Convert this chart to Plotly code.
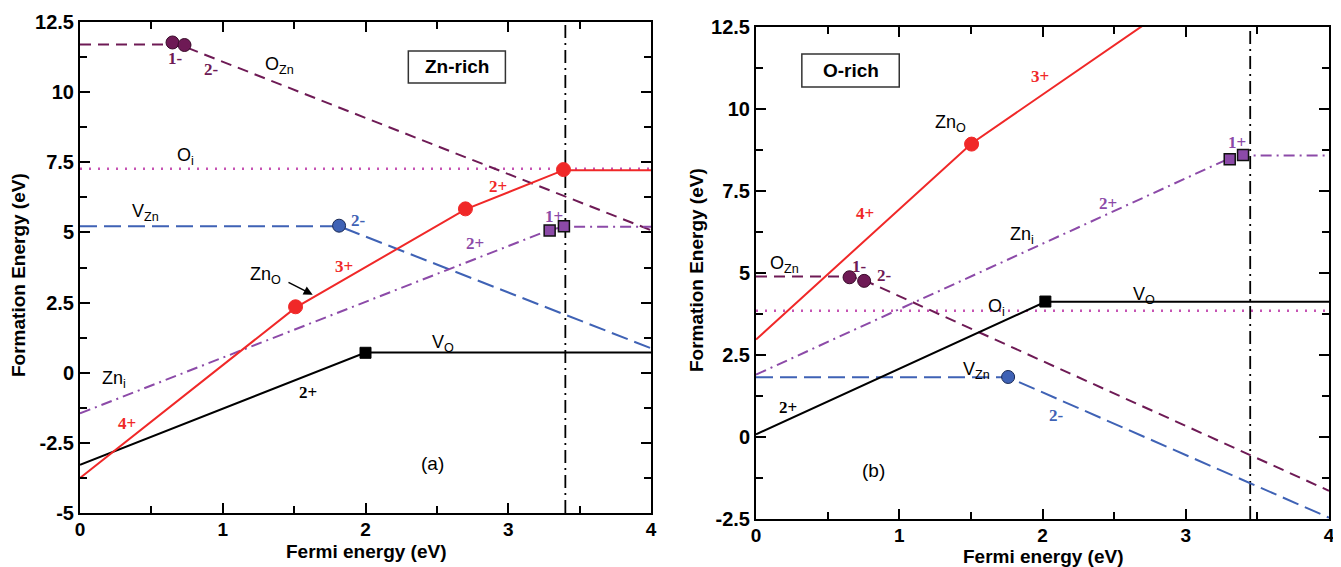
import plotly.graph_objects as go

# ---------------- data ----------------
# Panel (a): Zn-rich
a_OZn_x = [0.0, 0.648, 0.732, 4.0]
a_OZn_y = [11.70, 11.70, 11.62, 5.08]
a_Oi_x = [0.0, 4.0]
a_Oi_y = [7.27, 7.27]
a_VZn_x = [0.0, 1.815, 4.0]
a_VZn_y = [5.22, 5.22, 0.87]
a_ZnO_x = [0.0, 1.51, 2.70, 3.387, 4.0]
a_ZnO_y = [-3.75, 2.32, 5.82, 7.22, 7.22]
a_Zni_x = [0.0, 3.29, 3.39, 4.0]
a_Zni_y = [-1.45, 5.09, 5.20, 5.20]
a_VO_x = [0.0, 2.0, 4.0]
a_VO_y = [-3.28, 0.72, 0.72]
a_gap = 3.40

a_mk_OZn_x = [0.648, 0.732]
a_mk_OZn_y = [11.77, 11.68]
a_mk_VZn_x = [1.815]
a_mk_VZn_y = [5.24]
a_mk_ZnO_x = [1.51, 2.70, 3.387]
a_mk_ZnO_y = [2.35, 5.84, 7.24]
a_mk_Zni_x = [3.29, 3.39]
a_mk_Zni_y = [5.07, 5.22]
a_mk_VO_x = [2.0]
a_mk_VO_y = [0.71]

# Panel (b): O-rich
b_OZn_x = [0.0, 0.653, 0.755, 4.0]
b_OZn_y = [4.89, 4.89, 4.78, -1.64]
b_Oi_x = [0.0, 4.0]
b_Oi_y = [3.85, 3.85]
b_VZn_x = [0.0, 1.76, 4.0]
b_VZn_y = [1.82, 1.82, -2.46]
b_ZnO_x = [0.0, 1.505, 4.0]
b_ZnO_y = [2.97, 8.95, 16.45]
b_Zni_x = [0.0, 3.307, 3.40, 4.0]
b_Zni_y = [1.90, 8.50, 8.58, 8.58]
b_VO_x = [0.0, 2.02, 4.0]
b_VO_y = [0.08, 4.12, 4.12]
b_gap = 3.45

b_mk_OZn_x = [0.653, 0.755]
b_mk_OZn_y = [4.87, 4.76]
b_mk_VZn_x = [1.76]
b_mk_VZn_y = [1.83]
b_mk_ZnO_x = [1.505]
b_mk_ZnO_y = [8.93]
b_mk_Zni_x = [3.307, 3.40]
b_mk_Zni_y = [8.47, 8.60]
b_mk_VO_x = [2.02]
b_mk_VO_y = [4.13]

x_ticks = [0, 1, 2, 3, 4]
a_y_ticks = [-5, -2.5, 0, 2.5, 5, 7.5, 10, 12.5]
a_y_ticklabels = ["-5", "-2.5", "0", "2.5", "5", "7.5", "10", "12.5"]
b_y_ticks = [-2.5, 0, 2.5, 5, 7.5, 10, 12.5]
b_y_ticklabels = ["-2.5", "0", "2.5", "5", "7.5", "10", "12.5"]

# ---------------- styles ----------------
C_OZN = "#6E1A55"
C_OI = "#C653B3"
C_VZN = "#3F62B5"
C_ZNO = "#F02828"
C_ZNI = "#8C4AA8"
C_VO = "#000000"

fig = go.Figure()


def line(x, y, color, dash, xa, ya, width=2):
    fig.add_trace(go.Scatter(x=x, y=y, mode="lines", xaxis=xa, yaxis=ya,
                             line=dict(color=color, dash=dash, width=width),
                             hoverinfo="skip", showlegend=False))


def marks(x, y, color, symbol, size, xa, ya, outline="#222222", ow=1):
    fig.add_trace(go.Scatter(x=x, y=y, mode="markers", xaxis=xa, yaxis=ya,
                             marker=dict(color=color, symbol=symbol, size=size,
                                         line=dict(color=outline, width=ow)),
                             cliponaxis=False, hoverinfo="skip", showlegend=False))


DASH_OZN = "11px,7px"
DASH_VZN = "17px,7px"
DASH_ZNI = "11px,5px,2px,5px"
DASH_OI = "2px,7px"
DASH_GAP = "13px,5px,2px,5px"

for xa, ya, d, gap, yr in [
    ("x", "y", dict(OZn=(a_OZn_x, a_OZn_y), Oi=(a_Oi_x, a_Oi_y), VZn=(a_VZn_x, a_VZn_y),
                    ZnO=(a_ZnO_x, a_ZnO_y), Zni=(a_Zni_x, a_Zni_y), VO=(a_VO_x, a_VO_y),
                    mOZn=(a_mk_OZn_x, a_mk_OZn_y), mVZn=(a_mk_VZn_x, a_mk_VZn_y),
                    mZnO=(a_mk_ZnO_x, a_mk_ZnO_y), mZni=(a_mk_Zni_x, a_mk_Zni_y),
                    mVO=(a_mk_VO_x, a_mk_VO_y)), a_gap, [-5, 12.5]),
    ("x2", "y2", dict(OZn=(b_OZn_x, b_OZn_y), Oi=(b_Oi_x, b_Oi_y), VZn=(b_VZn_x, b_VZn_y),
                      ZnO=(b_ZnO_x, b_ZnO_y), Zni=(b_Zni_x, b_Zni_y), VO=(b_VO_x, b_VO_y),
                      mOZn=(b_mk_OZn_x, b_mk_OZn_y), mVZn=(b_mk_VZn_x, b_mk_VZn_y),
                      mZnO=(b_mk_ZnO_x, b_mk_ZnO_y), mZni=(b_mk_Zni_x, b_mk_Zni_y),
                      mVO=(b_mk_VO_x, b_mk_VO_y)), b_gap, [-2.5, 12.5]),
]:
    line(*d["Oi"], C_OI, DASH_OI, xa, ya, width=2.5)
    line([gap, gap], yr, "#000000", DASH_GAP, xa, ya, width=1.8)
    line(*d["OZn"], C_OZN, DASH_OZN, xa, ya)
    line(*d["VZn"], C_VZN, DASH_VZN, xa, ya)
    line(*d["Zni"], C_ZNI, DASH_ZNI, xa, ya)
    line(*d["VO"], C_VO, "solid", xa, ya)
    line(*d["ZnO"], C_ZNO, "solid", xa, ya)
    marks(*d["mOZn"], C_OZN, "circle", 13, xa, ya, outline="#3a0a2a")
    marks(*d["mVZn"], C_VZN, "circle", 13, xa, ya, outline="#1a2a55")
    marks(*d["mZnO"], C_ZNO, "circle", 14, xa, ya, outline=C_ZNO)
    marks(*d["mZni"], C_ZNI, "square", 11, xa, ya, outline="#111111", ow=1.5)
    marks(*d["mVO"], "#000000", "square", 11, xa, ya, outline="#000000")

# ---------------- layout geometry ----------------
# page body has an 8px default margin, so the figure is sized to fit and offset
OFF = 8
W, H = 1341 - OFF, 567 - OFF


def px(xp):
    return (xp - OFF) / W


def py(yp):
    return 1 - (yp - OFF) / H


# ---------------- annotations ----------------
SANS = "Liberation Sans, Arial, Helvetica, sans-serif"
SERIF = "Liberation Serif, Times New Roman, serif"
ann = []


def lab(x, y, text, xr, yr, size=18, color="black", family=SANS):
    ann.append(dict(x=x, y=y, xref=xr, yref=yr, text=text, showarrow=False,
                    xanchor="center", yanchor="middle",
                    font=dict(family=family, size=size, color=color)))


def chg(x, y, text, color, xr, yr):
    ann.append(dict(x=x, y=y, xref=xr, yref=yr, text="<b>" + text + "</b>", showarrow=False,
                    xanchor="center", yanchor="middle",
                    font=dict(family=SERIF, size=17, color=color)))


def title(xp, yp, text, angle=0):
    ann.append(dict(x=px(xp), y=py(yp), xref="paper", yref="paper", text="<b>" + text + "</b>",
                    showarrow=False, xanchor="center", yanchor="middle", textangle=angle,
                    font=dict(family=SANS, size=19, color="black")))


# panel a
lab(1.40, 10.95, "O<sub>Zn</sub>", "x", "y")
lab(0.74, 7.70, "O<sub>i</sub>", "x", "y")
lab(0.46, 5.70, "V<sub>Zn</sub>", "x", "y")
lab(1.30, 3.45, "Zn<sub>O</sub>", "x", "y")
lab(2.54, 1.05, "V<sub>O</sub>", "x", "y")
lab(0.24, -0.25, "Zn<sub>i</sub>", "x", "y")
lab(2.47, -3.25, "(a)", "x", "y", size=19)
lab(2.64, 10.90, "<b>Zn-rich</b>", "x", "y", size=19)
chg(0.67, 11.20, "1-", C_OZN, "x", "y")
chg(0.92, 10.82, "2-", C_OZN, "x", "y")
chg(1.95, 5.44, "2-", C_VZN, "x", "y")
chg(2.93, 6.62, "2+", C_ZNO, "x", "y")
chg(3.32, 5.58, "1+", C_ZNI, "x", "y")
chg(2.77, 4.62, "2+", C_ZNI, "x", "y")
chg(1.85, 3.80, "3+", C_ZNO, "x", "y")
chg(1.60, -0.72, "2+", "#000000", "x", "y")
chg(0.33, -1.82, "4+", C_ZNO, "x", "y")
ann.append(dict(x=1.63, y=2.78, xref="x", yref="y", ax=1.45, ay=3.25, axref="x", ayref="y",
                showarrow=True, arrowhead=2, arrowsize=1.2, arrowwidth=1.5, arrowcolor="black",
                text=""))

# panel b
lab(0.66, 11.17, "<b>O-rich</b>", "x2", "y2", size=19)
lab(1.36, 9.55, "Zn<sub>O</sub>", "x2", "y2")
lab(1.86, 6.15, "Zn<sub>i</sub>", "x2", "y2")
lab(0.20, 5.25, "O<sub>Zn</sub>", "x2", "y2")
lab(2.71, 4.30, "V<sub>O</sub>", "x2", "y2")
lab(1.68, 3.95, "O<sub>i</sub>", "x2", "y2")
lab(1.54, 2.02, "V<sub>Zn</sub>", "x2", "y2")
lab(0.82, -1.02, "(b)", "x2", "y2", size=19)
chg(1.98, 10.98, "3+", C_ZNO, "x2", "y2")
chg(3.36, 8.97, "1+", C_ZNI, "x2", "y2")
chg(0.76, 6.82, "4+", C_ZNO, "x2", "y2")
chg(2.46, 7.12, "2+", C_ZNI, "x2", "y2")
chg(0.72, 5.20, "1-", C_OZN, "x2", "y2")
chg(0.90, 4.92, "2-", C_OZN, "x2", "y2")
chg(2.10, 0.66, "2-", C_VZN, "x2", "y2")
chg(0.22, 0.90, "2+", "#000000", "x2", "y2")

# axis titles
title(366, 551, "Fermi energy (eV)")
title(1043, 556, "Fermi energy (eV)")
title(18, 275, "Formation Energy (eV)", angle=-90)
title(696, 270, "Formation Energy (eV)", angle=-90)

shapes = [
    dict(type="rect", xref="x", yref="y", x0=2.30, x1=2.98, y0=10.33, y1=11.47,
         line=dict(color="#333333", width=1.5), fillcolor="white", layer="below"),
    dict(type="rect", xref="x2", yref="y2", x0=0.32, x1=1.00, y0=10.67, y1=11.68,
         line=dict(color="#333333", width=1.5), fillcolor="white", layer="below"),
]

TICKFONT = dict(family="Liberation Sans, Arial", size=20, color="black", weight="bold")
XTICKFONT = dict(family="Liberation Sans, Arial", size=19, color="black", weight="bold")


def xaxis(domain, anchor):
    return dict(domain=domain, anchor=anchor, range=[0, 4], tickvals=x_ticks,
                ticktext=[str(t) for t in x_ticks], ticks="inside", ticklen=10, tickwidth=2,
                tickcolor="black", minor=dict(dtick=0.5, ticks="inside", ticklen=7, tickwidth=2,
                                              tickcolor="black"),
                showline=True, linewidth=2, linecolor="black", mirror="ticks",
                showgrid=False, zeroline=False, tickfont=XTICKFONT, automargin=False,
                ticklabelstandoff=-2)


def yaxis(domain, anchor, rng, tv, tt):
    return dict(domain=domain, anchor=anchor, range=rng, tickvals=tv, ticktext=tt,
                ticks="inside", ticklen=10, tickwidth=2, tickcolor="black",
                minor=dict(dtick=1.25, tick0=0, ticks="inside", ticklen=7, tickwidth=2,
                           tickcolor="black"),
                showline=True, linewidth=2, linecolor="black", mirror="ticks",
                showgrid=False, zeroline=False, tickfont=TICKFONT, automargin=False)


fig.update_layout(
    width=W, height=H, margin=dict(l=0, r=0, t=0, b=0),
    paper_bgcolor="white", plot_bgcolor="white",
    xaxis=xaxis([px(80), px(651)], "y"),
    yaxis=yaxis([py(513), py(22)], "x", [-5, 12.5], a_y_ticks, a_y_ticklabels),
    xaxis2=xaxis([px(756), px(1329)], "y2"),
    yaxis2=yaxis([py(519), py(27)], "x2", [-2.5, 12.5], b_y_ticks, b_y_ticklabels),
    annotations=ann, shapes=shapes, showlegend=False,
)

fig.write_html("out.html")
